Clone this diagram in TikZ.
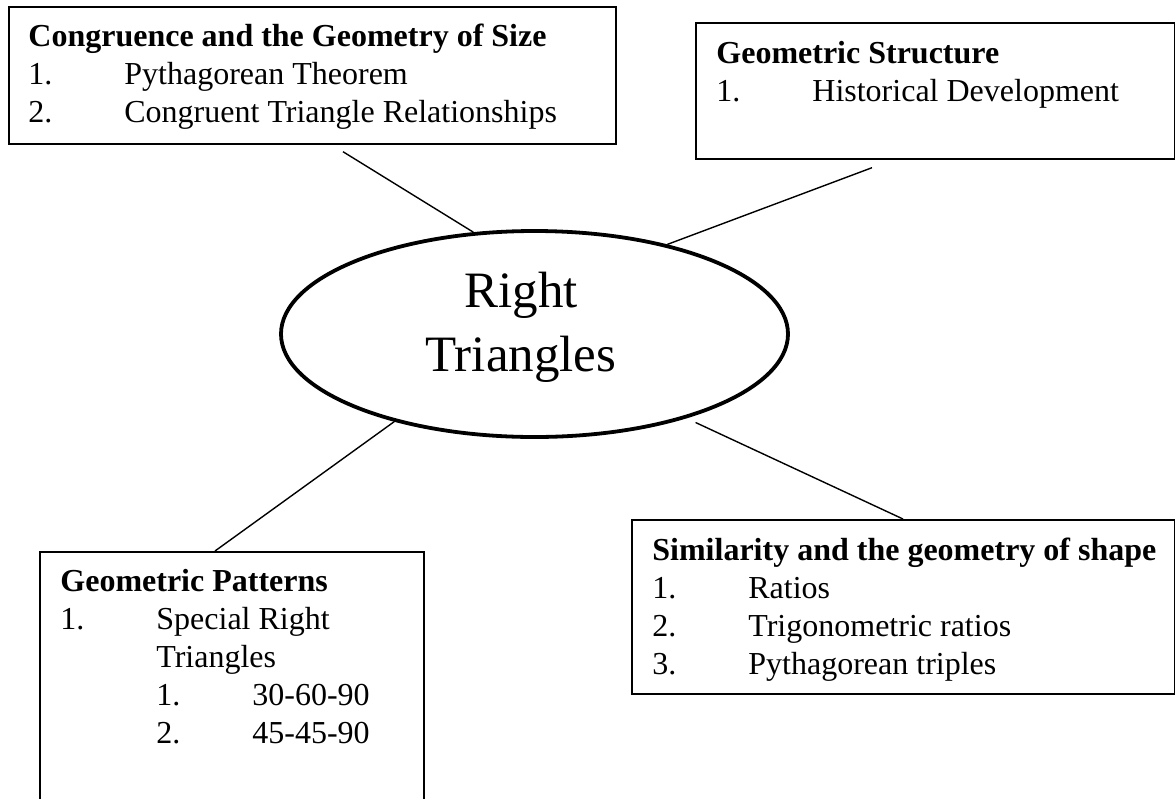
\documentclass[tikz,border=0pt]{standalone}
\usepackage{fontspec}
\setmainfont{Liberation Serif}
\usetikzlibrary{shapes.geometric, calc}
\newcommand{\listnum}[1]{\makebox[48pt][l]{#1}}
\tikzset{
  card/.style={draw, rectangle, anchor=north west, inner sep=0pt, line width=0.85pt},
  cardtext/.style={anchor=base west, align=left, inner sep=0pt, font=\fontsize{16}{19}\selectfont},
  hub/.style={draw, ellipse, inner sep=0pt, line width=1.9pt, minimum width=253.5pt, minimum height=103pt},
  link/.style={line width=0.7pt}
}

\begin{document}
\begin{tikzpicture}[x=0.5pt, y=-0.5pt]
\useasboundingbox (0,0) rectangle (1175,799);
\clip (0,0) rectangle (1175,799);
\node[hub] (hub) at (534.5,334) {};
\node[anchor=base, align=center, inner sep=0pt, font=\fontsize{25.5}{32}\selectfont] (hubtxt) at (521,371) {Right\\Triangles};

\node[card, minimum width=303.5pt, minimum height=68.5pt] (size) at (8,6) {};
\node[cardtext] (sizetxt) at (28,122) {\textbf{Congruence and the Geometry of Size}\\
  \listnum{1.}Pythagorean Theorem\\
  \listnum{2.}Congruent Triangle Relationships};

\node[card, minimum width=239.5pt, minimum height=68pt] (struct) at (695,22) {};
\node[cardtext] (structtxt) at (716,101) {\textbf{Geometric Structure}\\
  \listnum{1.}Historical Development};

\node[card, minimum width=192pt, minimum height=139.5pt] (patt) at (39,551) {};
\node[cardtext] (patttxt) at (60,743) {\textbf{Geometric Patterns}\\
  \listnum{1.}Special Right\\
  \hspace*{48pt}Triangles\\
  \hspace*{48pt}\listnum{1.}30-60-90\\
  \hspace*{48pt}\listnum{2.}45-45-90};

\node[card, minimum width=271.5pt, minimum height=87pt] (shape) at (631,519) {};
\node[cardtext] (shapetxt) at (652,674) {\textbf{Similarity and the geometry of shape}\\
  \listnum{1.}Ratios\\
  \listnum{2.}Trigonometric ratios\\
  \listnum{3.}Pythagorean triples};

\coordinate (sizefoot) at ([shift={(335,7)}]size.south west);
\coordinate (structfoot) at ([shift={(177,8)}]struct.south west);
\draw[link] (sizefoot) -- (hub.121);
\draw[link] (structfoot) -- (hub.34);
\draw[link] (hub.212) -- ([shift={(176,0)}]patt.north west);
\draw[link, shorten <=5pt] (hub.331) -- ([shift={(272,0)}]shape.north west);
\end{tikzpicture}
\end{document}
